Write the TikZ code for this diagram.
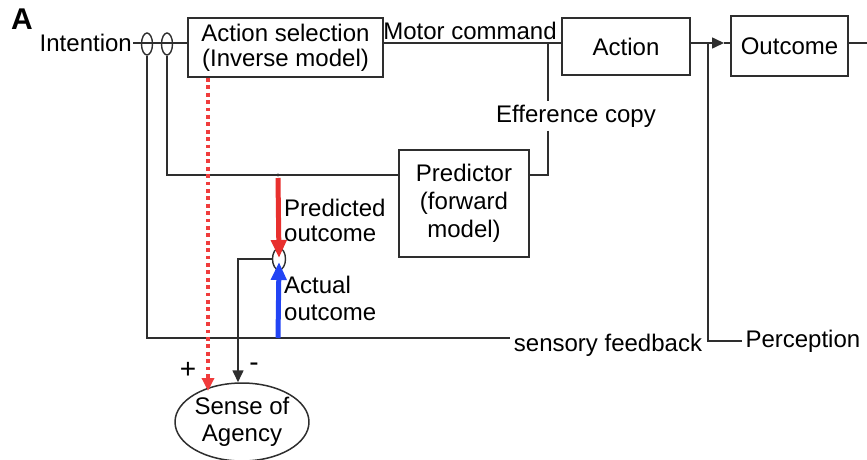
\documentclass[tikz,border=0pt]{standalone}
\usepackage{fontspec}
\setmainfont{Liberation Sans}
\usetikzlibrary{arrows.meta,calc,shapes.geometric}
\definecolor{ink}{HTML}{2E2E2E}
\definecolor{predred}{HTML}{E8302E}
\definecolor{dotred}{HTML}{F03C3C}
\definecolor{actblue}{HTML}{2244F4}

\begin{document}
\begin{tikzpicture}[x=1pt,y=-1pt,
  every node/.style={font=\fontsize{24}{25}\selectfont, text=black},
  block/.style={draw=ink, line width=1.8pt, inner sep=0pt, align=center},
  junction/.style={draw=ink, line width=1.4pt, ellipse, inner sep=0pt,
                   minimum width=11pt, minimum height=22pt},
  wire/.style={draw=ink, line width=1.6pt},
  tipblack/.style={-{Triangle[length=12pt,width=11pt]}},
  bigtip/.style={-{Triangle[length=18pt,width=15pt]}},
]
\useasboundingbox (0,0) rectangle (867,460);

% blocks
\node[block, minimum width=195pt, minimum height=59pt] (sel) at (285.5,47.5)
  {Action selection\\(Inverse model)};
\node[block, minimum width=128pt, minimum height=57pt] (act) at (626,46.5) {Action};
\node[block, minimum width=117pt, minimum height=60pt] (out) at (789.5,46) {Outcome};
\node[block, minimum width=130pt, minimum height=107pt,
      font=\fontsize{24}{28}\selectfont] (pred) at (464,203.5)
  {Predictor\\(forward\\model)};
\node[draw=ink, line width=1.5pt, ellipse, minimum width=125pt, minimum height=78pt,
      inner sep=0pt, align=center, font=\fontsize{24}{27}\selectfont] (soa) at (242,422)
  {Sense of\\Agency};

% labels
\node[font=\bfseries\fontsize{30}{30}\selectfont, inner sep=0pt] (lbl) at (22,19) {A};
\node[anchor=east, inner sep=1pt] (int) at (133,43) {Intention};
\node[inner sep=0pt] (mc) at (470,31) {Motor command};
\node (ec) at (576,116) {Efference copy};
\node[anchor=west, align=left, inner sep=0pt] (po) at (284,220) {Predicted\\outcome};
\node[anchor=west, align=left, inner sep=0pt, font=\fontsize{24}{27}\selectfont] (ao) at (284,298) {Actual\\outcome};
\node[inner sep=0pt, font=\fontsize{28}{28}\selectfont] (plus) at (188,370) {+};
\node[inner sep=0pt, font=\fontsize{28}{28}\selectfont] (minus) at (254,367) {-};
\node (sf) at (608,345) {sensory feedback};
\node[anchor=west] (perc) at (742,341) {Perception};

% comparators
\node[junction] (j1) at (147,44) {};
\node[junction] (j2) at (167,44) {};
\node[junction, minimum width=13pt, minimum height=22pt] (j3) at (279,259) {};

% reference points on the wires
\coordinate (row) at (0,43);
\coordinate (fb) at (0,338);
\coordinate (pj) at (278,175);
\coordinate (ec1) at (548,43);
\coordinate (tap) at (708,43);
\coordinate (tip) at (724,43);
\coordinate (rim) at (867,43);
\coordinate (cmp) at (238,259);
\coordinate (dd) at (208,391);

% forward path
\draw[wire] (int.east) -- (sel.west |- row);
\draw[wire] (sel.east |- row) -- (act.west |- row);
\draw[wire, tipblack] (act.east |- row) -- (tip);
\draw[wire] (tip) -- (out.west |- row);
\draw[wire] (out.east |- row) -- (rim);

% efference copy to the predictor
\draw[wire] (ec1) -- (ec.north -| ec1);
\draw[wire] (ec.south -| ec1) |- (pred.east |- pj);

% feedback loops
\draw[wire] (j2.south) |- (pred.west |- pj);
\draw[wire] (j1.south) |- (sf.west |- fb);
\draw[wire] (tap) |- (perc.west);

% comparison of predicted and actual outcome
\fill[ink] (pj) circle (1.6pt);
\draw[predred, line width=5pt, bigtip]
  ($(pj)+(0,3)$) -- ($(j3.center)+(0,-1)$);
\draw[actblue, line width=5pt, bigtip]
  (pj |- fb) -- ($(j3.center)+(0,3)$);
\draw[wire, tipblack] (j3.west) -| (soa.north -| cmp);

% intention signal to sense of agency
\draw[dotred, line width=3.8pt, dash pattern=on 3.8pt off 3.6pt,
      -{Triangle[length=13pt,width=12pt]}] (sel.south -| dd) -- (dd);
\end{tikzpicture}
\end{document}
